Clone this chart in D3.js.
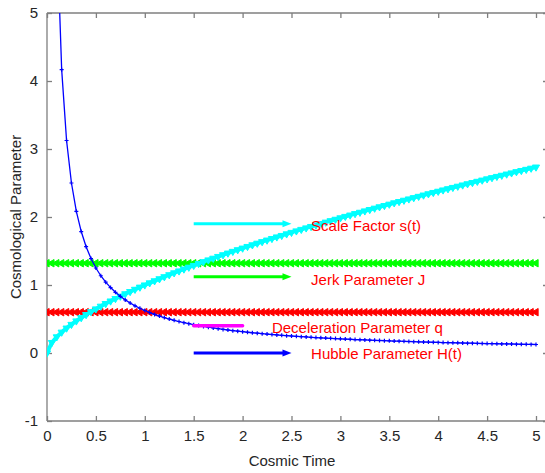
<!DOCTYPE html>
<html><head><meta charset="utf-8">
<script src="https://cdn.jsdelivr.net/npm/d3@7/dist/d3.min.js"></script>
<style>body{margin:0;background:#fff;}svg{display:block;font-family:"Liberation Sans",Arial,sans-serif;}</style>
</head><body><svg id="c" width="545" height="473"></svg>
<script>
const time = [0,0.05,0.1,0.15,0.2,0.25,0.3,0.35,0.4,0.45,0.5,0.55,0.6,0.65,0.7,0.75,0.8,0.85,0.9,0.95,1,1.05,1.1,1.15,1.2,1.25,1.3,1.35,1.4,1.45,1.5,1.55,1.6,1.65,1.7,1.75,1.8,1.85,1.9,1.95,2,2.05,2.1,2.15,2.2,2.25,2.3,2.35,2.4,2.45,2.5,2.55,2.6,2.65,2.7,2.75,2.8,2.85,2.9,2.95,3,3.05,3.1,3.15,3.2,3.25,3.3,3.35,3.4,3.45,3.5,3.55,3.6,3.65,3.7,3.75,3.8,3.85,3.9,3.95,4,4.05,4.1,4.15,4.2,4.25,4.3,4.35,4.4,4.45,4.5,4.55,4.6,4.65,4.7,4.75,4.8,4.85,4.9,4.95,5];
const scaleFactor = [0,0.154,0.237,0.306,0.366,0.420,0.471,0.519,0.564,0.607,0.648,0.688,0.727,0.764,0.800,0.835,0.870,0.903,0.936,0.968,1.000,1.031,1.061,1.091,1.121,1.150,1.178,1.206,1.234,1.261,1.288,1.315,1.342,1.368,1.393,1.419,1.444,1.469,1.494,1.518,1.542,1.566,1.590,1.614,1.637,1.660,1.683,1.706,1.728,1.751,1.773,1.795,1.817,1.839,1.860,1.882,1.903,1.924,1.945,1.966,1.987,2.008,2.028,2.049,2.069,2.089,2.109,2.129,2.149,2.168,2.188,2.208,2.227,2.246,2.265,2.284,2.303,2.322,2.341,2.360,2.378,2.397,2.415,2.434,2.452,2.470,2.488,2.506,2.524,2.542,2.560,2.578,2.596,2.613,2.631,2.648,2.666,2.683,2.700,2.717,2.734];
const hubble = [null,12.5,6.25,4.167,3.125,2.5,2.083,1.786,1.563,1.389,1.25,1.136,1.042,0.962,0.893,0.833,0.781,0.735,0.694,0.658,0.625,0.595,0.568,0.543,0.521,0.5,0.481,0.463,0.446,0.431,0.417,0.403,0.391,0.379,0.368,0.357,0.347,0.338,0.329,0.321,0.313,0.305,0.298,0.291,0.284,0.278,0.272,0.266,0.260,0.255,0.25,0.245,0.240,0.236,0.231,0.227,0.223,0.219,0.216,0.212,0.208,0.205,0.202,0.198,0.195,0.192,0.189,0.187,0.184,0.181,0.179,0.176,0.174,0.171,0.169,0.167,0.164,0.162,0.160,0.158,0.156,0.154,0.152,0.151,0.149,0.147,0.145,0.144,0.142,0.140,0.139,0.137,0.136,0.134,0.133,0.132,0.130,0.129,0.128,0.126,0.125];
const jerk = [1.32,1.32,1.32,1.32,1.32,1.32,1.32,1.32,1.32,1.32,1.32,1.32,1.32,1.32,1.32,1.32,1.32,1.32,1.32,1.32,1.32,1.32,1.32,1.32,1.32,1.32,1.32,1.32,1.32,1.32,1.32,1.32,1.32,1.32,1.32,1.32,1.32,1.32,1.32,1.32,1.32,1.32,1.32,1.32,1.32,1.32,1.32,1.32,1.32,1.32,1.32,1.32,1.32,1.32,1.32,1.32,1.32,1.32,1.32,1.32,1.32,1.32,1.32,1.32,1.32,1.32,1.32,1.32,1.32,1.32,1.32,1.32,1.32,1.32,1.32,1.32,1.32,1.32,1.32,1.32,1.32,1.32,1.32,1.32,1.32,1.32,1.32,1.32,1.32,1.32,1.32,1.32,1.32,1.32,1.32,1.32,1.32,1.32,1.32,1.32,1.32];
const deceleration = [0.6,0.6,0.6,0.6,0.6,0.6,0.6,0.6,0.6,0.6,0.6,0.6,0.6,0.6,0.6,0.6,0.6,0.6,0.6,0.6,0.6,0.6,0.6,0.6,0.6,0.6,0.6,0.6,0.6,0.6,0.6,0.6,0.6,0.6,0.6,0.6,0.6,0.6,0.6,0.6,0.6,0.6,0.6,0.6,0.6,0.6,0.6,0.6,0.6,0.6,0.6,0.6,0.6,0.6,0.6,0.6,0.6,0.6,0.6,0.6,0.6,0.6,0.6,0.6,0.6,0.6,0.6,0.6,0.6,0.6,0.6,0.6,0.6,0.6,0.6,0.6,0.6,0.6,0.6,0.6,0.6,0.6,0.6,0.6,0.6,0.6,0.6,0.6,0.6,0.6,0.6,0.6,0.6,0.6,0.6,0.6,0.6,0.6,0.6,0.6,0.6];
const xTicks = [0,0.5,1,1.5,2,2.5,3,3.5,4,4.5,5];
const xTickLabels = ["0","0.5","1","1.5","2","2.5","3","3.5","4","4.5","5"];
const yTicks = [-1,0,1,2,3,4,5];
const yTickLabels = ["-1","0","1","2","3","4","5"];
const labels = ["Scale Factor s(t)","Jerk Parameter J","Deceleration Parameter q","Hubble Parameter H(t)"];
const labelX = [2.7,2.7,2.3,2.7];
const labelY = [1.87,1.07,0.37,-0.01];
const arrowY = [1.9,1.12,0.40,0.0];
const arrowX0 = [1.5,1.5,1.5,1.5];
const arrowX1 = [2.5,2.5,2.0,2.5];
const arrowHead = [true,true,false,true];
const arrowColor = ["#00ffff","#00ff00","#ff00ff","#0000ff"];

const svg = d3.select("#c");
const x = d3.scaleLinear().domain([0,5]).range([47,536]);
const y = d3.scaleLinear().domain([-1,5]).range([421,13]);
const xr = 548; // right edge of axes box (just off-canvas)

svg.append("defs").append("clipPath").attr("id","clip")
  .append("rect").attr("x",47).attr("y",13).attr("width",xr-47).attr("height",421-13);

const axisColor = "#7f7f7f";
const gA = svg.append("g");
gA.append("line").attr("x1",47).attr("x2",xr).attr("y1",421).attr("y2",421).attr("stroke",axisColor).attr("stroke-width",1.3);
gA.append("line").attr("x1",47).attr("x2",xr).attr("y1",13).attr("y2",13).attr("stroke",axisColor).attr("stroke-width",1.3);
gA.append("line").attr("x1",47).attr("x2",47).attr("y1",13).attr("y2",421).attr("stroke",axisColor).attr("stroke-width",1.3);
gA.append("line").attr("x1",xr).attr("x2",xr).attr("y1",13).attr("y2",421).attr("stroke",axisColor).attr("stroke-width",1.3);

const xAxis = d3.axisBottom(x).tickValues(xTicks).tickSize(-5).tickPadding(9).tickFormat((d,i)=>xTickLabels[i]);
const gx = svg.append("g").attr("transform","translate(0,421)").call(xAxis);
const xAxisTop = d3.axisTop(x).tickValues(xTicks).tickSize(-5).tickFormat("");
const gxt = svg.append("g").attr("transform","translate(0,13)").call(xAxisTop);
const yAxis = d3.axisLeft(y).tickValues(yTicks).tickSize(-5).tickPadding(9).tickFormat((d,i)=>yTickLabels[i]);
const gy = svg.append("g").attr("transform","translate(47,0)").call(yAxis);
const yAxisR = d3.axisRight(y).tickValues(yTicks).tickSize(-5).tickFormat("");
const gyr = svg.append("g").attr("transform",`translate(${xr},0)`).call(yAxisR);
[gx,gxt,gy,gyr].forEach(g=>{
  g.select(".domain").remove();
  g.selectAll(".tick line").attr("stroke",axisColor).attr("stroke-width",1.3);
  g.selectAll(".tick text").attr("fill","#262626").style("font-size","15px").style("font-family","Liberation Sans, Arial, sans-serif");
});
gx.selectAll(".tick text").attr("dy","0.71em");

svg.append("text").attr("x",292).attr("y",466).attr("text-anchor","middle").attr("fill","#262626")
  .style("font-size","15px").text("Cosmic Time");
svg.append("text").attr("transform","translate(21,217) rotate(-90)").attr("text-anchor","middle").attr("fill","#262626")
  .style("font-size","15px").text("Cosmological Parameter");

const plot = svg.append("g").attr("clip-path","url(#clip)");
const pts = (vals)=>time.map((t,i)=>({t, v: vals[i]})).filter(d=>d.v!==null);
const line = d3.line().x(d=>x(d.t)).y(d=>y(d.v));

function triSeries(vals,color){
  const d = pts(vals);
  plot.append("path").attr("d",line(d)).attr("fill","none").attr("stroke",color).attr("stroke-width",2);
  const sym = d3.symbol().type(d3.symbolTriangle).size(24);
  plot.append("g").selectAll("path").data(d).join("path")
    .attr("d",sym).attr("transform",p=>`translate(${x(p.t)},${y(p.v)}) rotate(-90)`)
    .attr("fill",color).attr("stroke",color).attr("stroke-width",1);
}
triSeries(jerk,"#00ff00");
triSeries(deceleration,"#ff0000");

{
  const d = pts(scaleFactor);
  plot.append("path").attr("d",line(d)).attr("fill","none").attr("stroke","#00ffff").attr("stroke-width",4);
  const sym = d3.symbol().type(d3.symbolTriangle).size(22);
  plot.append("g").selectAll("path").data(d).join("path")
    .attr("d",sym).attr("transform",p=>`translate(${x(p.t)},${y(p.v)}) rotate(180)`)
    .attr("fill","#00ffff").attr("stroke","#00ffff").attr("stroke-width",1);
}

{
  const d = pts(hubble);
  plot.append("path").attr("d",line(d)).attr("fill","none").attr("stroke","#0000ff").attr("stroke-width",1.3);
  plot.append("g").selectAll("path").data(d).join("path")
    .attr("d",p=>{const cx=x(p.t),cy=y(p.v);return `M${cx-2},${cy}H${cx+2}M${cx},${cy-2}V${cy+2}`;})
    .attr("stroke","#0000ff").attr("stroke-width",1.2).attr("fill","none");
}

labels.forEach((lab,i)=>{
  const x0=x(arrowX0[i]), x1=x(arrowX1[i]), yy=y(arrowY[i]);
  if(arrowHead[i]){
    svg.append("line").attr("x1",x0).attr("x2",x1-8).attr("y1",yy).attr("y2",yy)
      .attr("stroke",arrowColor[i]).attr("stroke-width",3);
    svg.append("path").attr("d",`M${x1-9},${yy-3.5}L${x1},${yy}L${x1-9},${yy+3.5}Z`).attr("fill",arrowColor[i]);
  } else {
    svg.append("line").attr("x1",x0).attr("x2",x1).attr("y1",yy).attr("y2",yy)
      .attr("stroke",arrowColor[i]).attr("stroke-width",3.5).attr("stroke-linecap","round");
  }
  svg.append("text").attr("x",x(labelX[i])).attr("y",y(labelY[i])).attr("dy","0.35em")
    .attr("fill","#ff0000").style("font-size","15px").text(lab);
});
</script></body></html>
